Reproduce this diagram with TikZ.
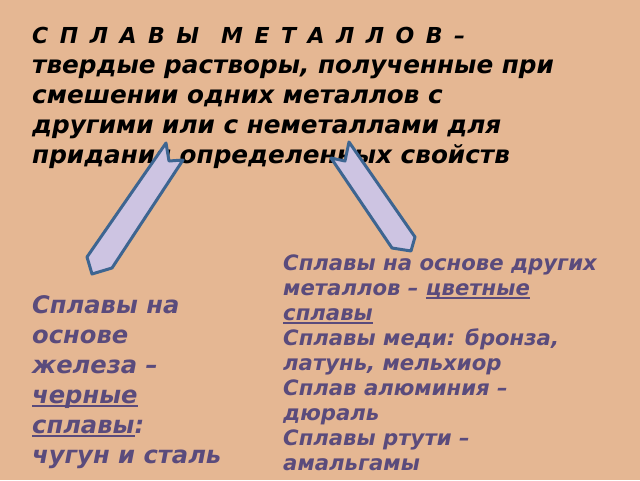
\documentclass[tikz,border=0pt]{standalone}
\usepackage{fontspec}
\setmainfont{DejaVu Sans}
\usetikzlibrary{positioning}
\definecolor{sandbg}{HTML}{E5B793}
\definecolor{plum}{HTML}{5A4B7C}
\definecolor{arrowfill}{HTML}{CDC4E2}
\definecolor{arrowline}{HTML}{3D6591}
\newcommand{\alloyline}[1]{\setbox0\hbox{#1}\rlap{\rule[-3.5pt]{\wd0}{1.3pt}}#1}
\newcommand{\capgap}{\hspace{11.5pt}}
\tikzset{%
	alloytext/.style={
		anchor=base west,
		align=left,
		inner sep=0pt,
		text=plum
	},
	blockarrow/.style={
		fill=arrowfill,
		draw=arrowline,
		line width=3pt,
		line join=round
	},
}

\begin{document}
\begin{tikzpicture}[x=1pt,y=-1pt]
			% Background
			\useasboundingbox (0,0) rectangle (640,480);
			\fill[sandbg] (0,0) rectangle (640,480);
			
			% Definition text (anchored at its last line)
			\node[alloytext, text=black, font=\fontsize{24.7}{30}\selectfont\bfseries\itshape] (title) at (32,163)
				{{\fontsize{22}{30}\selectfont С\capgap П\capgap Л\capgap А\capgap В\capgap Ы\hspace{22pt}М\capgap Е\capgap Т\capgap А\capgap Л\capgap Л\capgap О\capgap В\capgap –}\\
				твердые растворы, полученные при\\
				смешении одних металлов с\\
				другими или с неметаллами для\\
				придания определенных свойств};
			
			% Draw the left arrow
			\draw[blockarrow] (166,143) -- (169,161) -- (183,160) -- (112,268)
				-- (92,274) -- (87,257) -- cycle;
			
			% Draw the right arrow
			\draw[blockarrow] (349,142) -- (345,161) -- (331,158) -- (392,248)
				-- (411,251) -- (415,237) -- cycle;
			
			% Ferrous alloys
			\node[alloytext, font=\fontsize{24.2}{30}\selectfont\bfseries\itshape] (ferrous) at (32,463)
				{Сплавы на\\
				основе\\
				железа –\\
				\alloyline{черные}\\
				\alloyline{сплавы}:\\
				чугун и сталь};
			
			% Non-ferrous alloys
			\node[alloytext, font=\fontsize{21.2}{25}\selectfont\bfseries\itshape] (nonferrous) at (283,470)
				{Сплавы на основе других\\
				металлов – \alloyline{цветные}\\
				\alloyline{сплавы}\\
				Сплавы меди: бронза,\\
				латунь, мельхиор\\
				Сплав алюминия –\\
				дюраль\\
				Сплавы ртути –\\
				амальгамы};

		\end{tikzpicture}
\end{document}
